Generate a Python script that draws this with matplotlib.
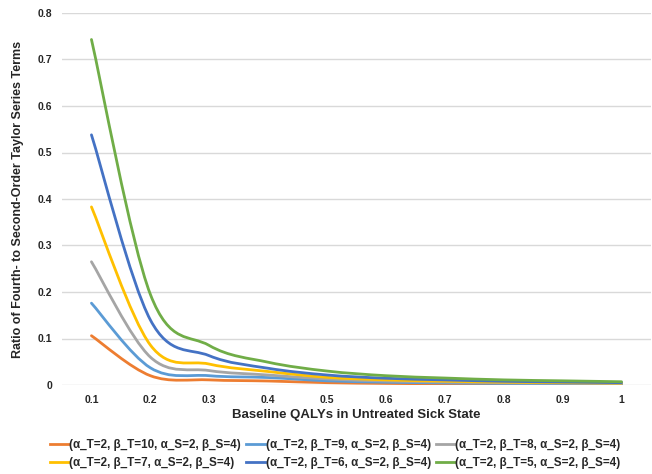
import numpy as np
import matplotlib.pyplot as plt
from matplotlib.path import Path
from matplotlib.patches import PathPatch
from matplotlib.lines import Line2D

plt.rcParams['font.family'] = ['Liberation Sans', 'DejaVu Sans']
plt.rcParams['font.weight'] = 'bold'

# baseline QALYs (category axis)
x_vals = [0.1, 0.2, 0.3, 0.4, 0.5, 0.6, 0.7, 0.8, 0.9, 1.0]
x_labels = ['0.1', '0.2', '0.3', '0.4', '0.5', '0.6', '0.7', '0.8', '0.9', '1']

# ratio of fourth- to second-order terms
s_bt10 = [0.106, 0.020, 0.011, 0.0086, 0.005, 0.0034, 0.0026, 0.0019, 0.0015, 0.0012]
s_bt9 = [0.176, 0.037, 0.020, 0.016, 0.009, 0.006, 0.0045, 0.0033, 0.0027, 0.0021]
s_bt8 = [0.265, 0.060, 0.031, 0.0215, 0.013, 0.0086, 0.0065, 0.0047, 0.0039, 0.003]
s_bt7 = [0.383, 0.086, 0.045, 0.029, 0.0165, 0.011, 0.0082, 0.006, 0.005, 0.004]
s_bt6 = [0.538, 0.140, 0.063, 0.036, 0.0215, 0.0145, 0.011, 0.008, 0.0065, 0.005]
s_bt5 = [0.743, 0.195, 0.085, 0.049, 0.030, 0.020, 0.015, 0.011, 0.009, 0.007]

names = ['(α_T=2, β_T=10, α_S=2, β_S=4)', '(α_T=2, β_T=9, α_S=2, β_S=4)',
         '(α_T=2, β_T=8, α_S=2, β_S=4)', '(α_T=2, β_T=7, α_S=2, β_S=4)',
         '(α_T=2, β_T=6, α_S=2, β_S=4)', '(α_T=2, β_T=5, α_S=2, β_S=4)']
colors = ['#ED7D31', '#5B9BD5', '#A5A5A5', '#FFC000', '#4472C4', '#70AD47']
series = [s_bt10, s_bt9, s_bt8, s_bt7, s_bt6, s_bt5]


def smooth_path(xs, ys):
    # excel-like smoothed line: catmull-rom segments as cubic beziers
    pts = np.column_stack([xs, ys])
    n = len(pts)
    verts = [pts[0]]
    codes = [Path.MOVETO]
    for i in range(n - 1):
        p0 = pts[max(i - 1, 0)]
        p1 = pts[i]
        p2 = pts[i + 1]
        p3 = pts[min(i + 2, n - 1)]
        c1 = p1 + (p2 - p0) / 6
        c2 = p2 - (p3 - p1) / 6
        verts += [c1, c2, p2]
        codes += [Path.CURVE4] * 3
    return Path(verts, codes)


fig = plt.figure(figsize=(6.52, 4.74), dpi=100)
ax = fig.add_axes([62 / 652, 1 - 385 / 474, 589 / 652, 372 / 474])

for s, c in zip(series, colors):
    ax.add_patch(PathPatch(smooth_path(x_vals, s), facecolor='none',
                           edgecolor=c, lw=2, capstyle='round'))

ax.set_xlim(0.05, 1.05)
ax.set_ylim(0, 0.8)
ax.set_xticks(x_vals)
ax.set_xticklabels(x_labels)
yt = np.arange(0, 0.81, 0.1)
ax.set_yticks(yt)
ax.set_yticklabels(['0'] + ['%.1f' % v for v in yt[1:]])
ax.tick_params(length=0, labelsize=7.5, colors='#262626', pad=7)
ax.grid(axis='y', color='#d9d9d9', lw=1)
ax.set_axisbelow(True)
for sp in ax.spines.values():
    sp.set_visible(False)

ax.set_xlabel('Baseline QALYs in Untreated Sick State', fontsize=9.5,
              fontweight='bold', color='#262626', labelpad=3)
ax.set_ylabel('Ratio of Fourth- to Second-Order Taylor Series Terms', fontsize=9,
              fontweight='bold', color='#262626', labelpad=10)

handles = [Line2D([], [], color=c, lw=2) for c in colors]
order = [0, 3, 1, 4, 2, 5]
fig.legend([handles[i] for i in order], [names[i] for i in order],
           loc='upper left', bbox_to_anchor=(50 / 652, 1 - 439 / 474), ncol=3,
           frameon=False, borderpad=0, borderaxespad=0,
           fontsize=8.4, handlelength=1.6, handletextpad=0.05, columnspacing=0.45,
           labelspacing=0.5, labelcolor='#262626')

fig.savefig('out.png', dpi=100)
